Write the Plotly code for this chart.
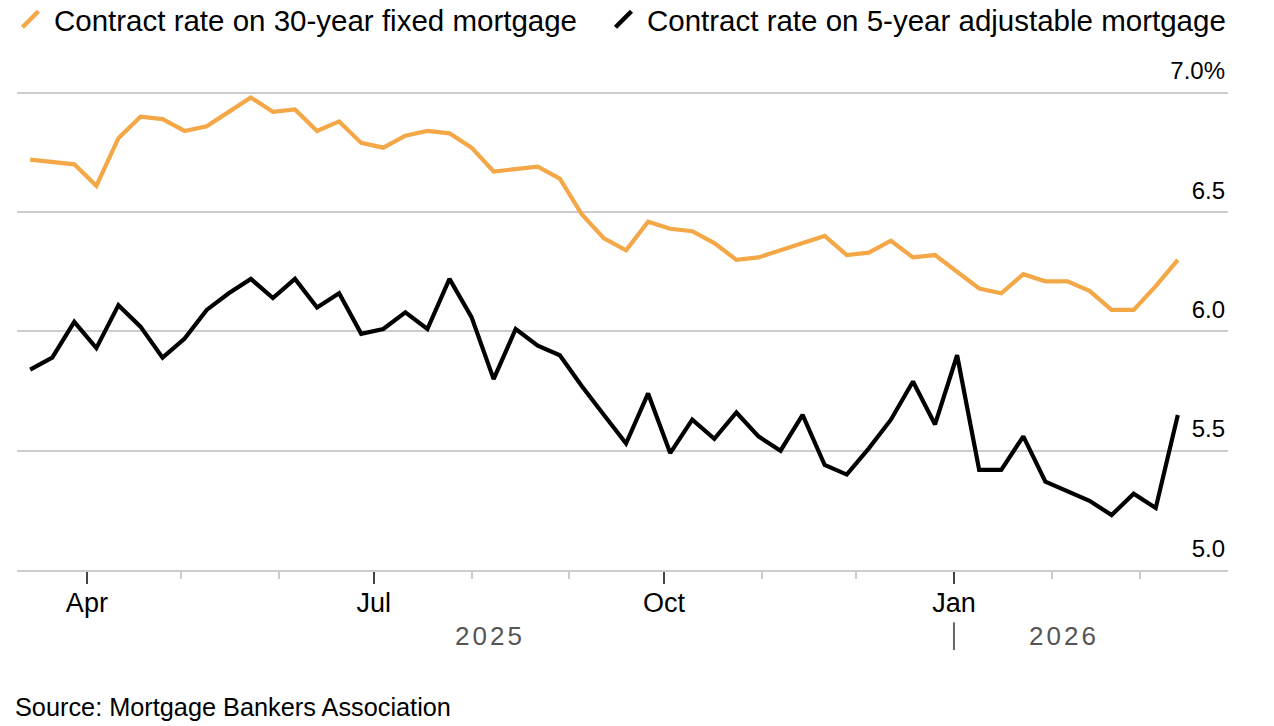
import plotly.graph_objects as go

# ---- data ----
dates = [
    "2025-03-14", "2025-03-21", "2025-03-28",
    "2025-04-04", "2025-04-11", "2025-04-18", "2025-04-25",
    "2025-05-02", "2025-05-09", "2025-05-16", "2025-05-23", "2025-05-30",
    "2025-06-06", "2025-06-13", "2025-06-20", "2025-06-27",
    "2025-07-04", "2025-07-11", "2025-07-18", "2025-07-25",
    "2025-08-01", "2025-08-08", "2025-08-15", "2025-08-22", "2025-08-29",
    "2025-09-05", "2025-09-12", "2025-09-19", "2025-09-26",
    "2025-10-03", "2025-10-10", "2025-10-17", "2025-10-24", "2025-10-31",
    "2025-11-07", "2025-11-14", "2025-11-21", "2025-11-28",
    "2025-12-05", "2025-12-12", "2025-12-19", "2025-12-26",
    "2026-01-02", "2026-01-09", "2026-01-16", "2026-01-23", "2026-01-30",
    "2026-02-06", "2026-02-13", "2026-02-20", "2026-02-27",
    "2026-03-06", "2026-03-13",
]

fixed_30yr = [
    6.72, 6.71, 6.70, 6.61, 6.81, 6.90, 6.89, 6.84, 6.86, 6.92,
    6.98, 6.92, 6.93, 6.84, 6.88, 6.79, 6.77, 6.82, 6.84, 6.83,
    6.77, 6.67, 6.68, 6.69, 6.64, 6.49, 6.39, 6.34, 6.46, 6.43,
    6.42, 6.37, 6.30, 6.31, 6.34, 6.37, 6.40, 6.32, 6.33, 6.38,
    6.31, 6.32, 6.25, 6.18, 6.16, 6.24, 6.21, 6.21, 6.17, 6.09,
    6.09, 6.19, 6.30,
]

arm_5yr = [
    5.84, 5.89, 6.04, 5.93, 6.11, 6.02, 5.89, 5.97, 6.09, 6.16,
    6.22, 6.14, 6.22, 6.10, 6.16, 5.99, 6.01, 6.08, 6.01, 6.22,
    6.06, 5.80, 6.01, 5.94, 5.90, 5.77, 5.65, 5.53, 5.74, 5.49,
    5.63, 5.55, 5.66, 5.56, 5.50, 5.65, 5.44, 5.40, 5.51, 5.63,
    5.79, 5.61, 5.90, 5.42, 5.42, 5.56, 5.37, 5.33, 5.29, 5.23,
    5.32, 5.26, 5.65,
]

series_names = [
    "Contract rate on 30-year fixed mortgage",
    "Contract rate on 5-year adjustable mortgage",
]
series_colors = ["#f4a746", "#000000"]
legend_widths = [541, None]

x_tickvals = ["2025-04-01", "2025-07-01", "2025-10-01", "2026-01-01"]
x_ticktext = ["Apr", "Jul", "Oct", "Jan"]

y_tickvals = [5.0, 5.5, 6.0, 6.5, 7.0]
y_ticktext = ["5.0", "5.5", "6.0", "6.5", "7.0%"]

year_labels = ["2025", "2026"]
year_label_x = ["2025-08-07", "2026-02-05"]
year_divider = "2026-01-01"

source_text = "Source: Mortgage Bankers Association"

FONT = "Liberation Sans, Arial, Helvetica, sans-serif"

fig = go.Figure()

for name, vals, col in zip(series_names, [fixed_30yr, arm_5yr], series_colors):
    fig.add_trace(go.Scatter(
        x=dates, y=vals, mode="lines", name=name,
        line=dict(color=col, width=4.2), showlegend=False,
        hoverinfo="skip",
    ))

# legend entries with slash symbols
for name, col, lw in zip(series_names, series_colors, legend_widths):
    kw = {} if lw is None else {"legendwidth": lw}
    fig.add_trace(go.Scatter(
        x=[None], y=[None], mode="markers", name=name,
        marker=dict(symbol="line-ne", size=16,
                    line=dict(color=col, width=4.5)),
        showlegend=True, **kw,
    ))

fig.update_layout(
    width=1274, height=726,
    margin=dict(l=17, r=46, t=57, b=156, autoexpand=False),
    paper_bgcolor="white", plot_bgcolor="white",
    font=dict(family=FONT, size=25, color="#000000"),
    showlegend=True,
    legend=dict(
        orientation="h", x=-0.0083, xanchor="left",
        y=1.073, yanchor="middle",
        font=dict(size=29.5, color="#000000"),
        itemsizing="trace", itemwidth=37,
        bgcolor="rgba(0,0,0,0)",
    ),
    hovermode=False,
)

fig.update_xaxes(
    type="date",
    range=["2025-03-09 20:00", "2026-03-28 22:00"],
    tickmode="array", tickvals=x_tickvals, ticktext=x_ticktext,
    ticks="outside", ticklen=12, tickwidth=2, tickcolor="#444444",
    ticklabelstandoff=-4,
    showline=True, linecolor="#cccccc", linewidth=2,
    showgrid=False, zeroline=False,
    tickfont=dict(size=27, color="#000000"),
    minor=dict(ticks="outside", ticklen=7, tickwidth=1.5,
               tickcolor="#cccccc", dtick="M1", tick0="2025-01-01",
               showgrid=False),
)

fig.update_yaxes(
    range=[5.0, 7.15],
    side="right",
    tickmode="array", tickvals=y_tickvals, ticktext=y_ticktext,
    ticklabelposition="inside top", ticklabelshift=-5,
    ticklabeloverflow="allow",
    ticks="",
    showgrid=True, gridcolor="#cccccc", gridwidth=2,
    zeroline=False, showline=False,
    tickfont=dict(size=24, color="#000000"),
)

for txt, xv in zip(year_labels, year_label_x):
    fig.add_annotation(
        x=xv, xref="x", y=-0.129, yref="paper",
        text='<span style="letter-spacing:3px">' + txt + '</span>',
        showarrow=False, xanchor="center", yanchor="middle",
        font=dict(size=26, color="#555555"),
    )

fig.add_shape(
    type="line", xref="x", yref="paper",
    x0=year_divider, x1=year_divider, y0=-0.102, y1=-0.156,
    line=dict(color="#666666", width=2),
)

fig.add_annotation(
    x=-0.003, xref="paper", y=-0.267, yref="paper",
    text=source_text, showarrow=False, xanchor="left", yanchor="middle",
    font=dict(size=25.3, color="#000000"),
)

fig.write_html("out.html", config={"displayModeBar": False},
               post_script="document.body.style.margin='0';")
